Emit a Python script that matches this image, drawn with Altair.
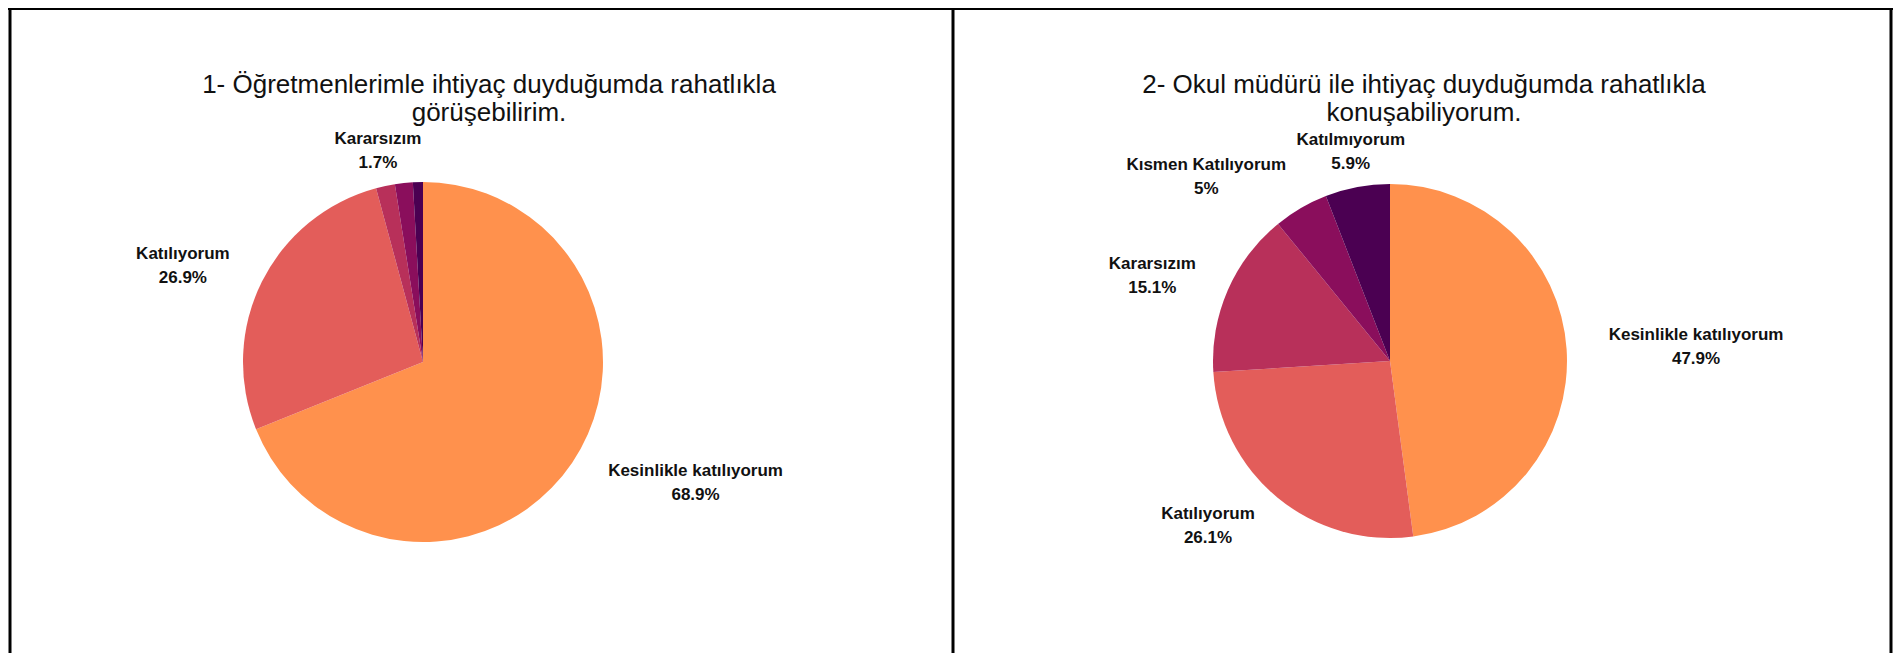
import altair as alt
import pandas as pd

# ---- data ----
categories = ["Kesinlikle katılıyorum", "Katılıyorum", "Kararsızım",
              "Kısmen Katılıyorum", "Katılmıyorum"]
values1 = [68.9, 26.9, 1.7, 1.6, 0.9]
values2 = [47.9, 26.1, 15.1, 5.0, 5.9]
colors = ["#FF914D", "#E35D5A", "#B8305A", "#8A0E5C", "#4B0052"]
title1 = "1- Öğretmenlerimle ihtiyaç duyduğumda rahatlıkla\ngörüşebilirim."
title2 = "2- Okul müdürü ile ihtiyaç duyduğumda rahatlıkla\nkonuşabiliyorum."

W, H = 1885, 645
FONT = "Liberation Sans"
LFS, LLH, CW = 17, 24, 8.5   # label font size, line height, approx char width

color_enc = alt.Color("cat:N", scale=alt.Scale(domain=categories, range=colors), legend=None)


def pie(values, cx, cy, r, min_label):
    df = pd.DataFrame({"cat": categories, "value": values, "idx": list(range(len(values)))})
    df["label"] = [f"{c}\n{v:g}%" for c, v in zip(categories, values)]
    arc = alt.Chart(df).mark_arc(radius=r).encode(
        theta=alt.Theta("value:Q", stack=True),
        color=color_enc,
        order=alt.Order("idx:Q"),
        x=alt.value(cx), y=alt.value(cy),
    )
    R = r + 36
    labels = (alt.Chart(df)
              .transform_joinaggregate(total="sum(value)")
              .transform_window(cum="sum(value)", sort=[alt.SortField("idx", order="ascending")],
                                frame=[None, 0])
              .transform_calculate(mid="(datum.cum - datum.value/2)/datum.total")
              .transform_filter(f"datum.value >= {min_label}")
              .transform_calculate(
                  ang="2*PI*datum.mid",
                  hw=f"length(datum.cat)*{CW}/2",
                  side="(datum.mid < 0.05 || datum.mid > 0.95) ? 0 : (datum.mid < 0.5 ? 1 : -1)")
              .transform_calculate(
                  lx=f"{cx} + {R}*sin(datum.ang) + datum.side*datum.hw",
                  ly=f"{cy} - {R}*cos(datum.ang) - {LLH / 2}")
              .mark_text(align="center", baseline="middle", lineBreak="\n", font=FONT,
                         fontSize=LFS, fontWeight="bold", lineHeight=LLH, color="#111111")
              .encode(x=alt.X("lx:Q", scale=None, axis=None),
                      y=alt.Y("ly:Q", scale=None, axis=None),
                      text="label:N"))
    return [arc, labels]


def title(t, cx, cy):
    return alt.Chart(pd.DataFrame({"t": [t]})).mark_text(
        align="center", baseline="middle", lineBreak="\n", font=FONT, fontSize=26,
        lineHeight=28, color="#111111").encode(text="t:N", x=alt.value(cx), y=alt.value(cy))


def vrule(x):
    return alt.Chart(pd.DataFrame({"a": [0]})).mark_rule(color="black", strokeWidth=3).encode(
        x=alt.value(x), y=alt.value(0), y2=alt.value(H))


top_rule = alt.Chart(pd.DataFrame({"a": [0]})).mark_rule(color="black", strokeWidth=2).encode(
    x=alt.value(0), x2=alt.value(W), y=alt.value(1))

layers = [vrule(2), vrule(945), vrule(1883), top_rule,
          title(title1, 481, 77), title(title2, 1416, 77)]
layers += pie(values1, 415, 354, 180, 1.7)
layers += pie(values2, 1382, 353, 177, 1.0)

chart = alt.layer(*layers).resolve_scale(theta="independent").properties(
    width=W, height=H, padding=0,
    autosize=alt.AutoSizeParams(type="none"),
).configure_view(stroke=None)

chart.save("out.html", embed_options={"renderer": "svg", "actions": False})
